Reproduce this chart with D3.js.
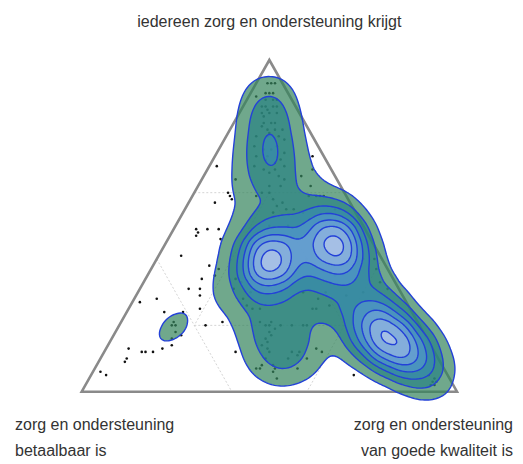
<!DOCTYPE html>
<html>
<head>
<meta charset="utf-8">
<script src="https://cdn.jsdelivr.net/npm/d3@7"></script>
<style>
  html, body { margin: 0; padding: 0; background: #fff; }
  svg { display: block; font-family: "Liberation Sans", Arial, Helvetica, sans-serif; }
</style>
</head>
<body>
<svg id="chart" width="523" height="464"></svg>
<script>
// Corner titles
const topTitle = ["iedereen zorg en ondersteuning krijgt"];
const leftTitle = ["zorg en ondersteuning", "betaalbaar is"];
const rightTitle = ["zorg en ondersteuning", "van goede kwaliteit is"];

// Answers: [iedereen krijgt, betaalbaar, goede kwaliteit] in percent, number of respondents
const scattered = [
  [68,30,2,1],[64,27,9,1],[60,31,9,1],[59,31,10,1],[58,31,11,1],[57,36,7,1],[49,45,6,1],[48,45,7,1],
  [47,46,7,1],[49,42,9,1],[49,39,12,1],[46,40,14,1],[41,53,6,1],[38,47,15,1],[37,45,18,1],[35,47,18,1],
  [34,51,15,1],[31,56,13,1],[31,53,16,1],[29,54,17,1],[28,66,6,1],[27,71,2,1],[24,66,10,1],[24,61,15,1],
  [25,56,19,1],[21,52,27,1],[20,57,23,1],
  [21,65,14,1],[20,66,14,1],[20,65,15,1],[18,66,16,2],[16,68,16,1],[14,69,17,1],[17,65,18,1],
  [13,81,6,1],[10,83,7,1],[9,84,7,1],[12,78,10,1],[12,77,11,1],[12,75,13,1],[13,72,15,1],[6,92,2,1],
  [5,91,4,1],[12,53,35,1]
];
const topGroup = [
  [93,4,3,1],[93,3,4,1],[93,2,5,1],[90,6,4,1],[90,5,5,1],[90,4,6,1],[89,9,2,1],[88,7,5,1],[88,5,7,1],
  [88,4,8,1],[86,9,5,1],[86,8,6,1],[86,6,8,1],[86,5,9,1],[84,8,8,1],[84,10,6,1],[83,10,7,1],[84,6,10,1],
  [81,11,8,1],[81,9,10,1],[81,8,11,1],[80,12,8,1],[79,11,10,1],[79,9,12,1],[79,7,14,1],[77,15,8,1],
  [77,12,11,1],[77,9,14,1],[76,8,16,1],[74,17,9,1],[73,15,12,1],[73,13,14,1],[74,11,15,1],[72,10,18,1],
  [71,18,11,1],[70,16,14,1],[69,14,17,1],[70,12,18,1],[68,20,12,1],[67,18,15,1],[67,15,18,1],[68,12,20,1],
  [65,15,20,1],[64,14,22,1],[62,19,19,1],[62,16,22,1],[60,22,18,1],[58,20,22,1],[57,18,25,1],[56,20,24,1],
  [59,24,17,1],
  [85,8,7,3],[78,11,11,3],[71,15,14,8],[66,17,17,5],[60,20,20,2],
  [71,3,26,1],[67,5,28,1],[65,9,26,1]
];
const centreGroup = [
  [59,10,31,1],[59,8,33,1],[59,7,34,1],[59,6,35,1],[62,8,30,1],
  [55,18,27,1],[54,22,24,1],[55,16,29,1],[54,14,32,1],
  [34,42,24,1],[33,41,26,1],[31,44,25,1],[28,43,29,1],[26,43,31,1],[25,42,33,1],[25,40,35,1],
  [30,26,44,1],[28,23,49,1],[26,21,53,1],[25,26,49,1],[29,15,56,1],
  [40,2,58,1],[37,3,60,1],[33,4,63,1],[31,3,66,1],
  [40,30,30,68],[45,10,45,54],[50,25,25,9],[33,33,34,12],[30,40,30,6],[40,20,40,9],[50,20,30,6],
  [50,10,40,12],[40,10,50,12],[35,15,50,9],[30,20,50,8],[25,25,50,6],[55,5,40,6],[40,5,55,6]
];
const lowerGroup = [
  [21,42,37,1],[20,41,39,1],[21,39,40,1],[19,39,42,1],[20,37,43,1],[18,41,41,1],[17,41,42,1],[16,43,41,1],
  [15,43,42,1],[14,45,41,1],[13,44,43,1],[12,44,44,1],[10,46,44,1],[8,48,44,1],[8,45,47,1],[7,45,48,1],
  [7,49,44,1],[20,34,46,1],[12,38,50,1],[11,37,52,1],[12,36,52,2],[13,31,56,1],[12,30,58,1],[20,31,49,1],
  [7,50,43,1],[6,46,48,1],[4,46,50,1],[7,39,54,2],[5,25,70,1],[10,35,55,3],
  [20,30,50,4],[20,40,40,8],[10,40,50,6]
];
const qualityGroup = [
  [4,4,92,1],[3,4,93,1],[3,5,92,1],[2,5,93,1],[2,6,92,1],
  [19,14,67,30],[15,10,75,44],[11,6,83,30],[30,10,60,9],[25,10,65,9],[5,5,90,9],[25,5,70,6]
];
const responses = [].concat(scattered, topGroup, centreGroup, lowerGroup, qualityGroup);

// Reference lines inside the triangle, as pairs of compositions
const gridLines = [
  [[60,40,0],[60,0,40]], [[40,60,0],[0,60,40]], [[40,0,60],[0,40,60]],
  [[20,60,20],[20,20,60]], [[60,20,20],[20,20,60]], [[60,20,20],[20,60,20]]
];

// Density levels (respondents per kernel peak) and their fills
const levelCount = 9;
const levelStep = 9.5;
const levelFills = ["#33835b","#298383","#388bae","#5195ca","#6fa3d5","#92b5df","#b3c6ea","#d0d4f0","#e0e2f6"];

const svg = d3.select("#chart");
const W = 523, H = 464;

// Ternary layout: top corner = iedereen, left = betaalbaar, right = kwaliteit
const xScale = d3.scaleLinear().domain([0, 100]).range([81.7, 457]);
const yScale = d3.scaleLinear().domain([0, 100]).range([391.7, 60]);
const px = d => xScale(d[2] + d[0] / 2);
const py = d => yScale(d[0]);

const corners = [[100,0,0],[0,100,0],[0,0,100]];

// Reference lines
svg.append("g")
  .selectAll("line")
  .data(gridLines)
  .join("line")
  .attr("x1", d => px(d[0])).attr("y1", d => py(d[0]))
  .attr("x2", d => px(d[1])).attr("y2", d => py(d[1]))
  .attr("stroke", "#c9c9c9")
  .attr("stroke-width", 0.8)
  .attr("stroke-dasharray", "2,2");

// Triangle outline
svg.append("path")
  .attr("d", d3.line().x(px).y(py)(corners) + "Z")
  .attr("fill", "none")
  .attr("stroke", "#8a8a8a")
  .attr("stroke-width", 2.6)
  .attr("stroke-linejoin", "miter");

// Respondents
svg.append("g")
  .selectAll("circle")
  .data(responses)
  .join("circle")
  .attr("cx", px).attr("cy", py)
  .attr("r", 1.3)
  .attr("fill", "#111");

// Kernel density contours
const bandwidth = 20;
const unit = 1 / (2 * Math.PI * bandwidth * bandwidth);
const thresholds = d3.range(1, levelCount + 1).map(k => k * levelStep * unit);
const contours = d3.contourDensity()
  .x(px).y(py).weight(d => d[3])
  .size([W, H])
  .cellSize(2)
  .bandwidth(bandwidth)
  .thresholds(thresholds)(responses);

svg.append("g")
  .selectAll("path")
  .data(contours)
  .join("path")
  .attr("d", d3.geoPath())
  .attr("fill", (d, i) => levelFills[i])
  .attr("fill-opacity", 0.7)
  .attr("stroke", "#2341d8")
  .attr("stroke-width", 1.4)
  .attr("stroke-linejoin", "round");

// Titles
const title = svg.append("g").attr("fill", "#333").attr("font-size", 16);
title.append("text")
  .attr("x", px(corners[0])).attr("y", 27)
  .attr("text-anchor", "middle")
  .text(topTitle[0]);
title.selectAll(".left").data(leftTitle).join("text")
  .attr("x", 15).attr("y", (d, i) => 430 + i * 26)
  .text(d => d);
title.selectAll(".right").data(rightTitle).join("text")
  .attr("x", 513).attr("y", (d, i) => 430 + i * 26)
  .attr("text-anchor", "end")
  .text(d => d);
</script>
</body>
</html>
